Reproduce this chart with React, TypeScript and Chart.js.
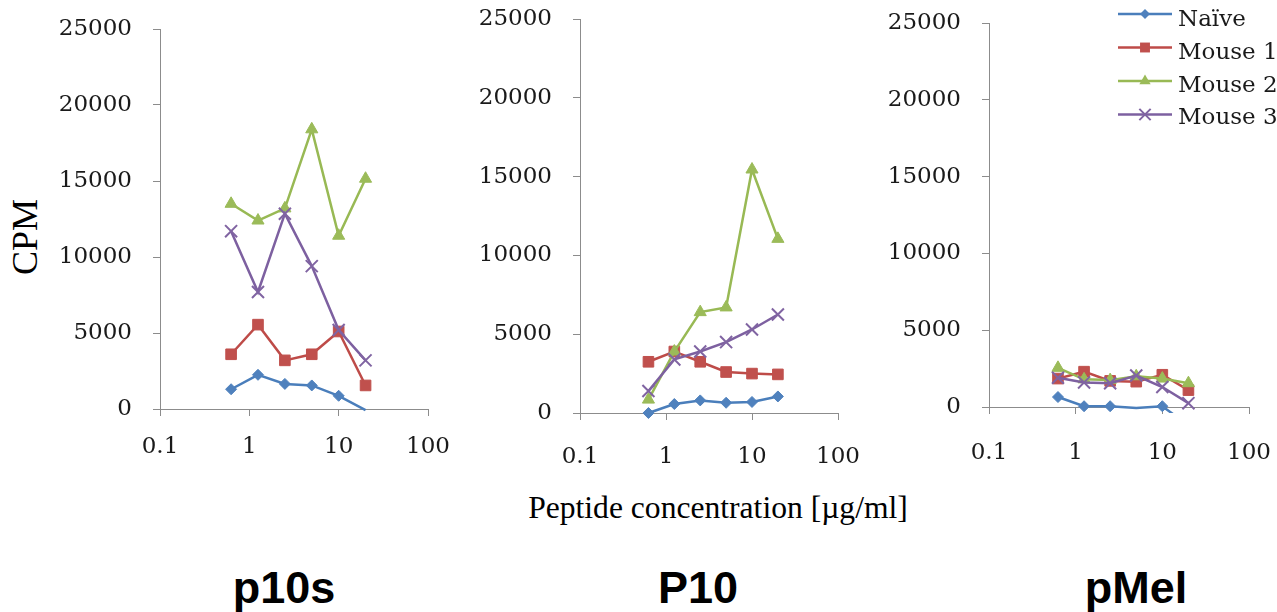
import React, { useEffect, useRef } from 'react';
import { Chart, registerables } from 'chart.js';

Chart.register(...registerables);

// ---------- data ----------
const concentrations = [0.625, 1.25, 2.5, 5, 10, 20];
const xTickValues = [0.1, 1, 10, 100];
const yMin = 0;
const yMax = 25000;
const yStep = 5000;
const seriesNames = ['Naïve', 'Mouse 1', 'Mouse 2', 'Mouse 3'];
const panelTitles = ['p10s', 'P10', 'pMel'];

const p10sNaive = [1300, 2250, 1650, 1550, 870, -70];
const p10sMouse1 = [3600, 5550, 3200, 3600, 5100, 1550];
const p10sMouse2 = [13500, 12400, 13200, 18400, 11400, 15150];
const p10sMouse3 = [11700, 7700, 12850, 9400, 5200, 3200];

const P10Naive = [0, 570, 800, 650, 700, 1050];
const P10Mouse1 = [3250, 3900, 3250, 2600, 2500, 2450];
const P10Mouse2 = [850, 3900, 6400, 6700, 15450, 11050];
const P10Mouse3 = [1400, 3400, 3900, 4500, 5300, 6250];

const pMelNaive = [650, 50, 50, -60, 50, -1200];
const pMelMouse1 = [1850, 2300, 1700, 1650, 2100, 1100];
const pMelMouse2 = [2550, 1800, 1750, 2000, 1850, 1550];
const pMelMouse3 = [1900, 1600, 1550, 2050, 1300, 250];

const xAxisTitle = 'Peptide concentration [µg/ml]';
const yAxisTitle = 'CPM';

// ---------- styles ----------
const lineColors = ['#4A7EBB', '#BE4B48', '#98B954', '#7D60A0'];
const markerColors = ['#4F81BD', '#C0504D', '#9BBB59', '#8064A2'];
const pointStyles = ['rectRot', 'rect', 'triangle', 'crossRot'];
const pointRadii = [5.5, 7.5, 7, 8.5];
const axisColor = '#8c8c8c';
const textColor = '#1a1a1a';
const tickFont = { family: '"DejaVu Serif", serif', size: 23 };

const Y_W = 110;
const X_H = 60;

type PanelDef = {
  series: number[][];
  left: number;
  right: number;
  top: number;
  bottom: number;
  xPad: number;
  canvasRight: number;
  legend: boolean;
};

const panels: PanelDef[] = [
  { series: [p10sNaive, p10sMouse1, p10sMouse2, p10sMouse3], left: 160, right: 428, top: 29, bottom: 409, xPad: 17, canvasRight: 460, legend: false },
  { series: [P10Naive, P10Mouse1, P10Mouse2, P10Mouse3], left: 580, right: 838, top: 19, bottom: 413, xPad: 23, canvasRight: 870, legend: false },
  { series: [pMelNaive, pMelMouse1, pMelMouse2, pMelMouse3], left: 989, right: 1249, top: 23, bottom: 407, xPad: 25, canvasRight: 1277, legend: true },
];

function drawMarker(ctx: CanvasRenderingContext2D, style: string, x: number, y: number, r: number, color: string) {
  ctx.save();
  ctx.fillStyle = color;
  ctx.strokeStyle = color;
  ctx.lineWidth = 2;
  ctx.beginPath();
  if (style === 'rectRot') {
    ctx.moveTo(x - r, y);
    ctx.lineTo(x, y - r);
    ctx.lineTo(x + r, y);
    ctx.lineTo(x, y + r);
    ctx.closePath();
    ctx.fill();
  } else if (style === 'rect') {
    const s = r * Math.SQRT1_2;
    ctx.rect(x - s, y - s, 2 * s, 2 * s);
    ctx.fill();
  } else if (style === 'triangle') {
    for (let k = 0; k < 3; k++) {
      const a = (k * 2 * Math.PI) / 3;
      const px = x + Math.sin(a) * r;
      const py = y - Math.cos(a) * r;
      if (k === 0) ctx.moveTo(px, py);
      else ctx.lineTo(px, py);
    }
    ctx.closePath();
    ctx.fill();
  } else {
    const o = Math.cos(Math.PI / 4) * r;
    ctx.moveTo(x - o, y - o);
    ctx.lineTo(x + o, y + o);
    ctx.moveTo(x - o, y + o);
    ctx.lineTo(x + o, y - o);
    ctx.stroke();
  }
  ctx.restore();
}

function PanelChart({ panel }: { panel: PanelDef }) {
  const ref = useRef<HTMLCanvasElement>(null);
  const canvasLeft = panel.left - Y_W;
  const canvasW = panel.canvasRight - canvasLeft;
  const canvasH = panel.bottom + X_H;

  useEffect(() => {
    const legendPlugin = {
      id: 'excelLegend',
      afterDraw(chart: any) {
        if (!panel.legend) return;
        const ctx: CanvasRenderingContext2D = chart.ctx;
        const lx0 = 1118 - canvasLeft;
        const lx1 = 1172 - canvasLeft;
        const tx = 1178 - canvasLeft;
        const markerR = [5, 7, 6.5, 8];
        seriesNames.forEach((name, i) => {
          const ly = 14 + i * 33.5;
          ctx.save();
          ctx.strokeStyle = lineColors[i];
          ctx.lineWidth = 2.5;
          ctx.beginPath();
          ctx.moveTo(lx0, ly);
          ctx.lineTo(lx1, ly);
          ctx.stroke();
          ctx.restore();
          drawMarker(ctx, pointStyles[i], (lx0 + lx1) / 2, ly, markerR[i], markerColors[i]);
          ctx.save();
          ctx.fillStyle = textColor;
          ctx.font = '23px "DejaVu Serif", serif';
          ctx.textAlign = 'left';
          ctx.textBaseline = 'alphabetic';
          ctx.fillText(name, tx, 26 + i * 32.8);
          ctx.restore();
        });
      },
    };

    const chart = new Chart(ref.current as HTMLCanvasElement, {
      type: 'line',
      data: {
        datasets: panel.series.map((vals, i) => ({
          label: seriesNames[i],
          data: concentrations.map((x, j) => ({ x, y: vals[j] })),
          borderColor: lineColors[i],
          backgroundColor: markerColors[i],
          borderWidth: 2.5,
          pointStyle: pointStyles[i] as any,
          pointRadius: (c: any) => (c.raw && c.raw.y < 0 ? 0 : pointRadii[i]),
          pointHoverRadius: (c: any) => (c.raw && c.raw.y < 0 ? 0 : pointRadii[i]),
          pointBackgroundColor: markerColors[i],
          pointBorderColor: markerColors[i],
          pointBorderWidth: i === 3 ? 2 : 1,
          tension: 0,
          order: 3 - i,
          clip: { left: 12, right: 12, top: 12, bottom: 6 } as any,
        })),
      },
      options: {
        responsive: false,
        animation: false,
        devicePixelRatio: 1,
        events: [],
        layout: {
          padding: { top: panel.top, right: panel.canvasRight - panel.right, left: 0, bottom: 0 },
        },
        plugins: {
          legend: { display: false },
          tooltip: { enabled: false },
          title: { display: false },
        },
        scales: {
          x: {
            type: 'logarithmic',
            min: xTickValues[0],
            max: xTickValues[xTickValues.length - 1],
            afterBuildTicks: (s: any) => {
              s.ticks = xTickValues.map((v) => ({ value: v }));
            },
            afterFit: (s: any) => {
              s.height = X_H;
              s.paddingLeft = 0;
              s.paddingRight = 0;
              s.paddingTop = 0;
              s.paddingBottom = 0;
            },
            ticks: {
              callback: (v: any) => String(v),
              font: tickFont,
              color: textColor,
              padding: panel.xPad,
              autoSkip: false,
              maxRotation: 0,
            },
            grid: { drawOnChartArea: false, drawTicks: true, tickLength: 7, color: axisColor, lineWidth: 1 },
            border: { display: true, color: axisColor, width: 1 },
          },
          y: {
            type: 'linear',
            min: yMin,
            max: yMax,
            afterFit: (s: any) => {
              s.width = Y_W;
              s.paddingLeft = 0;
              s.paddingRight = 0;
              s.paddingTop = 0;
              s.paddingBottom = 0;
            },
            ticks: {
              stepSize: yStep,
              callback: (v: any) => String(v),
              font: tickFont,
              color: textColor,
              padding: 21,
            },
            grid: { drawOnChartArea: false, drawTicks: true, tickLength: 7, color: axisColor, lineWidth: 1 },
            border: { display: true, color: axisColor, width: 1 },
          },
        },
      } as any,
      plugins: [legendPlugin],
    });
    return () => chart.destroy();
  }, []);

  return (
    <canvas
      ref={ref}
      width={canvasW}
      height={canvasH}
      style={{ position: 'absolute', left: canvasLeft, top: 0, width: canvasW, height: canvasH }}
    />
  );
}

export default function App() {
  const titleCenters = [284, 698, 1136];
  return (
    <div style={{ position: 'absolute', left: 0, top: 0, width: 1277, height: 612, background: '#ffffff', overflow: 'hidden' }}>
      {panels.map((p, i) => (
        <PanelChart key={i} panel={p} />
      ))}
      <div
        style={{
          position: 'absolute',
          left: 25 - 100,
          top: 237 - 18,
          width: 200,
          height: 36,
          lineHeight: '36px',
          fontSize: 36,
          fontFamily: '"Liberation Serif", "Times New Roman", serif',
          color: '#000',
          textAlign: 'center',
          transform: 'rotate(-90deg)',
          whiteSpace: 'nowrap',
        }}
      >
        {yAxisTitle}
      </div>
      <div
        style={{
          position: 'absolute',
          left: 718 - 300,
          top: 492,
          width: 600,
          lineHeight: '31px',
          fontSize: 31.6,
          fontFamily: '"Liberation Serif", "Times New Roman", serif',
          color: '#000',
          textAlign: 'center',
          whiteSpace: 'nowrap',
        }}
      >
        {xAxisTitle}
      </div>
      {panelTitles.map((t, i) => (
        <div
          key={t}
          style={{
            position: 'absolute',
            left: titleCenters[i] - 150,
            top: 565,
            width: 300,
            lineHeight: '45px',
            fontSize: 45,
            fontWeight: 'bold',
            fontFamily: '"Liberation Sans", Arial, sans-serif',
            color: '#000',
            textAlign: 'center',
            whiteSpace: 'nowrap',
          }}
        >
          {t}
        </div>
      ))}
    </div>
  );
}
